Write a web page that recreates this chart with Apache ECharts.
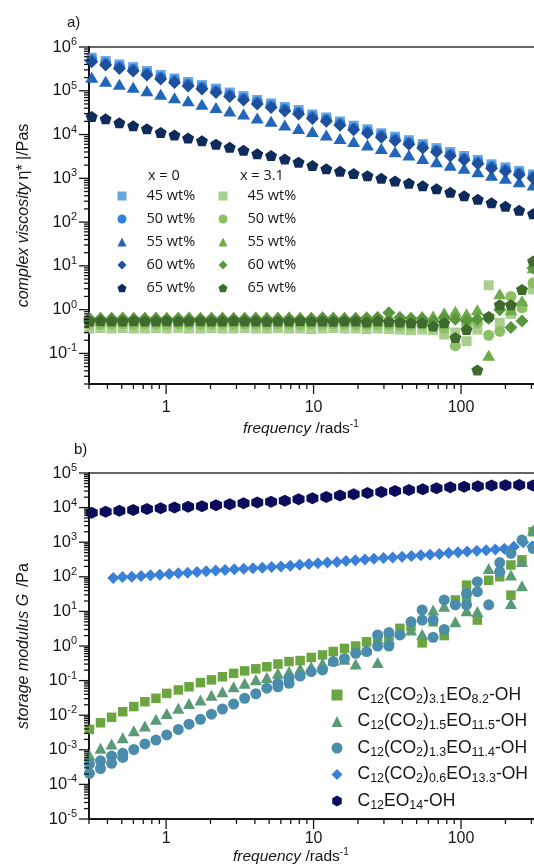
<!DOCTYPE html>
<html><head><meta charset="utf-8">
<script src="https://cdn.jsdelivr.net/npm/echarts@6/dist/echarts.min.js"></script>
<style>html,body{margin:0;padding:0;background:#fff}#c{width:534px;height:868px}</style>
</head><body><div id="c"></div>
<script>
// ---------- data ----------
const freqFine = [0.313,0.389,0.482,0.598,0.741,0.919,1.14,1.41,1.75,2.18,2.70,3.35,4.15,5.15,6.38,7.91,9.82,12.2,15.1,18.7,23.2,28.8,35.7,44.3,55.0,68.2,84.5,105,130,161,200,248,308];
const freqGreen = [0.302,0.359,0.427,0.508,0.604,0.718,0.853,1.01,1.21,1.43,1.71,2.03,2.41,2.87,3.41,4.06,4.82,5.73,6.82,8.11,9.64,11.5,13.6,16.2,19.3,22.9,27.2,32.4,38.5,45.8,54.5,64.7,76.9,91.5,109,129,154,183,218,259,308];
const freqDiam = [0.438,0.506,0.585,0.677,0.783,0.906,1.05,1.21,1.40,1.62,1.87,2.17,2.51,2.90,3.36,3.88,4.49,5.19,6.01,6.95,8.04,9.29,10.7,12.4,14.4,16.6,19.2,22.3,25.7,29.8,34.4,39.8,46.1,53.3,61.6,71.3,82.5,95.4,110,128,148,171,197,228,264,305];

// panel a, x = 0
const a0_45 = [568000,478000,399000,347000,282000,229000,191000,159000,135000,112000,91100,75900,61600,51300,42700,36300,28800,24600,19900,15900,13200,10700,8910,7420,6030,4900,3990,3230,2630,2090,1780,1480,1230];
const a0_50 = [508000,428000,356000,310000,252000,205000,171000,142000,121000,100000,81500,67900,55100,45900,38200,32500,25700,22000,17800,14200,11800,9580,7960,6630,5390,4380,3560,2890,2350,1870,1600,1320,1100];
const a0_55 = [204000,166000,141000,120000,100000,83200,69200,58900,49000,41700,34700,29500,24000,20000,16600,13800,11700,9770,8130,6920,5750,4790,4070,3390,2820,2400,2000,1700,1410,1170,1000,832,708];
const a0_60 = [462000,389000,324000,282000,229000,186000,155000,129000,110000,91200,74100,61700,50100,41700,34700,29500,23400,20000,16200,12900,10700,8710,7240,6030,4900,3980,3240,2630,2140,1700,1450,1200,1000];
const a0_65 = [25700,22900,18600,15800,13500,11200,9770,8320,7240,6030,5130,4370,3630,3310,2750,2340,1950,1660,1450,1290,1150,1000,871,776,676,575,479,398,331,275,229,186,155];
// panel a, x = 3.1
const a3_45 = [0.37,0.38,0.37,0.38,0.37,0.37,0.38,0.37,0.38,0.37,0.37,0.38,0.37,0.37,0.38,0.37,0.37,0.38,0.37,0.37,0.36,0.37,0.38,0.37,0.37,0.36,0.37,0.36,0.35,0.34,0.35,0.34,0.27,0.30,0.19,0.35,3.6,0.5,0.8,1.2,2.9];
const a3_50 = [0.47,0.46,0.47,0.47,0.46,0.47,0.47,0.46,0.47,0.47,0.46,0.47,0.47,0.46,0.47,0.47,0.46,0.47,0.47,0.46,0.47,0.46,0.47,0.47,0.46,0.45,0.46,0.45,0.44,0.43,0.45,0.42,0.38,0.15,0.45,0.5,0.26,0.32,2.0,1.1,4.1];
const a3_55 = [0.68,0.69,0.68,0.69,0.68,0.68,0.69,0.68,0.68,0.69,0.68,0.68,0.69,0.68,0.68,0.69,0.68,0.68,0.69,0.68,0.68,0.70,0.69,0.68,0.68,0.69,0.70,0.72,0.70,0.68,0.71,0.72,0.85,0.92,0.8,1.0,0.091,2.3,1.0,1.6,9.0];
const a3_60 = [0.63,0.62,0.63,0.63,0.62,0.63,0.63,0.62,0.63,0.63,0.62,0.63,0.63,0.62,0.63,0.63,0.62,0.63,0.63,0.62,0.63,0.64,0.63,0.62,0.63,0.64,0.66,0.85,0.66,0.63,0.63,0.55,0.65,0.6,0.55,0.6,0.63,1.0,0.39,0.55,8.9];
const a3_65 = [0.55,0.56,0.55,0.55,0.56,0.55,0.55,0.56,0.55,0.55,0.56,0.55,0.55,0.56,0.55,0.55,0.54,0.55,0.55,0.56,0.55,0.55,0.54,0.55,0.55,0.52,0.55,0.53,0.52,0.50,0.5,0.42,0.5,0.23,0.35,0.042,0.7,1.3,1.3,2.9,12.9];

// panel b
const bSq = [0.00389,0.00603,0.00871,0.0126,0.0178,0.0245,0.0309,0.0427,0.0537,0.0661,0.0871,0.105,0.129,0.162,0.191,0.219,0.251,0.302,0.355,0.380,0.468,0.550,0.692,0.851,1.0,1.32,1.58,1.86,3.24,3.63,1.23,5.01,2.0,21.4,57.5,5.62,79.4,100,219,309,2000];
const bSqRun2 = [null,null,null,null,null,null,null,null,null,null,null,null,null,null,null,null,null,null,null,null,null,null,null,null,null,null,null,null,null,null,null,null,null,null,24.0,null,null,null,29.5,null,null];
const bTri = [0.000708,0.0011,0.00148,0.00224,0.00355,0.0049,0.00759,0.0112,0.0158,0.0219,0.0275,0.038,0.0479,0.0661,0.0832,0.105,0.123,0.162,0.182,0.224,0.251,0.316,0.380,0.417,0.302,0.8,0.331,1.66,2.57,2.88,2.19,11.0,14.1,5.01,10.5,10.0,174,195,112,275,2240];
const bTriRun2 = [null,null,null,null,null,null,null,null,null,null,null,null,null,null,null,null,null,null,null,null,null,null,null,null,null,null,null,null,null,null,null,null,null,null,null,null,null,null,17.0,55.0,null];
const bCirc = [0.000389,0.000479,0.000661,0.000794,0.00102,0.00148,0.00191,0.00269,0.00389,0.0055,0.00759,0.0107,0.0151,0.0209,0.0309,0.0417,0.0603,0.0832,0.115,0.135,0.182,0.204,0.355,0.437,0.617,0.692,2.09,2.45,2.09,5.01,11.0,5.62,21.4,15.5,33.1,72.4,15.5,257,479,1150,661];
const bCircRun2 = [0.000209,0.000288,0.000407,0.000603,null,null,null,null,null,null,null,null,null,null,null,null,null,0.0661,0.0832,null,null,null,null,null,null,null,1.0,1.0,null,null,5.62,1.78,3.02,null,15.5,37.2,null,141,null,null,null];
const bDiam = [93,98,100,105,110,115,120,126,132,138,145,151,158,164,170,178,184,193,200,209,224,234,245,257,269,288,302,316,331,347,363,380,398,417,437,457,490,513,537,562,589,617,646,741,1000,759];
const bHex = [7130,7620,8130,8510,9120,9550,10100,10600,11000,11600,12400,13300,14100,14800,15800,17400,18600,20400,22400,24500,26300,28200,30200,32400,33900,36300,38500,39800,41700,43200,44200,44700,43700];

const namesA = ['45 wt%','50 wt%','55 wt%','60 wt%','65 wt%'];
const namesB = ['C12(CO2)3.1EO8.2-OH','C12(CO2)1.5EO11.5-OH','C12(CO2)1.3EO11.4-OH','C12(CO2)0.6EO13.3-OH','C12EO14-OH'];
const xMajor = [1,10,100];
const yMajorA = [0.1,1,10,100,1000,10000,100000,1000000];
const yMajorB = [1e-5,1e-4,1e-3,1e-2,0.1,1,10,100,1000,10000,100000];
const minorMult = [2,3,4,5,6,7,8,9];

// ---------- helpers ----------
const FONT = 'Liberation Sans';
const INK = '#161616';
const PENT = 'path://M50,0 L97.6,34.5 L79.4,90.5 L20.6,90.5 L2.4,34.5 Z';
const HEX = 'path://M50,0 L93.3,25 L93.3,75 L50,100 L6.7,75 L6.7,25 Z';

function minorVals(d0, d1, lo, hi) {
  const out = [];
  for (let d = d0; d <= d1; d++) for (const m of minorMult) {
    const v = m * Math.pow(10, d);
    if (v >= lo * 0.9999 && v <= hi * 1.0001) out.push(v);
  }
  return out;
}
function pairs(xs, ys) {
  const out = [];
  xs.forEach((x, i) => { if (ys[i] != null) out.push([x, ys[i]]); });
  return out;
}
function sc(name, gi, xs, ys, symbol, size, color, extra) {
  let data = pairs(xs, ys);
  if (extra) data = data.concat(pairs(xs, extra));
  return { type: 'scatter', name, xAxisIndex: gi, yAxisIndex: gi, data, symbol, symbolSize: size,
    itemStyle: { color, opacity: 1 }, emphasis: { disabled: true }, silent: true };
}
function xTicks(gi, vals, yBase, len) {
  return { type: 'custom', xAxisIndex: gi, yAxisIndex: gi, silent: true, clip: false, z: 6,
    data: vals.map(v => [v, yBase]),
    renderItem: (p, api) => {
      const c = api.coord([api.value(0), api.value(1)]);
      return { type: 'line', shape: { x1: c[0], y1: c[1], x2: c[0], y2: c[1] + len }, style: { stroke: INK, lineWidth: 1.3 } };
    } };
}
function yTicks(gi, vals, xBase, len) {
  return { type: 'custom', xAxisIndex: gi, yAxisIndex: gi, silent: true, clip: false, z: 6,
    data: vals.map(v => [xBase, v]),
    renderItem: (p, api) => {
      const c = api.coord([api.value(0), api.value(1)]);
      return { type: 'line', shape: { x1: c[0] - len, y1: c[1], x2: c[0], y2: c[1] }, style: { stroke: INK, lineWidth: 1.3 } };
    } };
}
function powLabel(v) {
  const e = Math.log10(v), r = Math.round(e);
  if (Math.abs(e - r) > 0.01) return '';
  return '{b|10}{s|' + r + '}';
}
function decLabel(v) {
  const e = Math.log10(v), r = Math.round(e);
  if (Math.abs(e - r) > 0.01 || r < 0) return '';
  return String(Math.round(Math.pow(10, r)));
}
function richChem(n) {
  return n.replace(/(\d+(?:\.\d+)?)|([^\d]+)/g, (m, d, t) => d ? '{s|' + d + '}' : '{n|' + t + '}');
}
const tickRich = {
  b: { fontSize: 16.5, lineHeight: 21, fontFamily: FONT, color: INK },
  s: { fontSize: 11, lineHeight: 12, verticalAlign: 'top', fontFamily: FONT, color: INK }
};
function xAxisCfg(gi, margin) {
  return { type: 'log', logBase: 10, gridIndex: gi, min: 0.3, max: 1000, splitNumber: 5,
    axisLine: { show: true, onZero: false, lineStyle: { color: INK, width: 2 } },
    axisTick: { show: false }, minorTick: { show: false }, splitLine: { show: false },
    axisLabel: { formatter: decLabel, margin, fontSize: 16, fontFamily: FONT, color: INK } };
}
function yAxisCfg(gi, min, max, split, name) {
  return { type: 'log', logBase: 10, gridIndex: gi, min, max, splitNumber: split,
    axisLine: { show: true, lineStyle: { color: INK, width: 2 } },
    axisTick: { show: false }, minorTick: { show: false }, splitLine: { show: false },
    axisLabel: { formatter: powLabel, margin: 12, rich: tickRich },
    name, nameLocation: 'middle', nameRotate: 90, nameGap: 57, nameMoveOverlap: false,
    nameTextStyle: { color: INK, rich: {
      i: { fontStyle: 'italic', fontSize: 16, fontFamily: FONT, color: INK },
      n: { fontSize: 16, fontFamily: FONT, color: INK } } } };
}
const xTitleRich = {
  i: { fontStyle: 'italic', fontSize: 15.5, lineHeight: 20, fontFamily: FONT, color: INK },
  n: { fontSize: 15.5, lineHeight: 20, fontFamily: FONT, color: INK },
  s: { fontSize: 10, lineHeight: 14, verticalAlign: 'top', fontFamily: FONT, color: INK }
};
function title(text, left, top, size, family, rich) {
  return { text, left, top, padding: 0,
    textStyle: { fontSize: size, fontWeight: 'normal', fontFamily: family || FONT, color: INK, rich } };
}

const blue = ['#6aa6e2', '#2f7fdc', '#2166b8', '#1d4f9c', '#0f2b5b'];
const green = ['#a8d08d', '#8cc063', '#6eab4a', '#5a963d', '#3e6b2d'];
const symA = ['rect', 'circle', 'triangle', 'diamond', PENT];
const sizeA = [[10, 10], 11, [13, 11], [13, 13], [12, 11]];
const aX0 = [a0_45, a0_50, a0_55, a0_60, a0_65];
const aX3 = [a3_45, a3_50, a3_55, a3_60, a3_65];

const series = [];
namesA.forEach((n, i) => series.push(sc('0|' + n, 0, freqFine, aX0[i], symA[i], sizeA[i], blue[i])));
namesA.forEach((n, i) => series.push(sc('3.1|' + n, 0, freqGreen, aX3[i], symA[i], sizeA[i], green[i])));
series.push(sc(namesB[4], 1, freqFine, bHex, HEX, [12, 12], '#0b0d5c'));
series.push(sc(namesB[3], 1, freqDiam, bDiam, 'diamond', [12, 12], '#3b80d8'));
series.push(sc(namesB[0], 1, freqGreen, bSq, 'rect', [9.5, 9.5], '#6aa53f', bSqRun2));
series.push(sc(namesB[1], 1, freqGreen, bTri, 'triangle', [12, 11], '#5a9b76', bTriRun2));
series.push(sc(namesB[2], 1, freqGreen, bCirc, 'circle', 11, '#4a8cab', bCircRun2));

// axis ticks (drawn through the axes' own scales)
series.push(xTicks(0, xMajor, 0.02, 10), xTicks(0, minorVals(-1, 2, 0.3, 1000), 0.02, 5));
series.push(yTicks(0, yMajorA, 0.3, 10), yTicks(0, minorVals(-2, 5, 0.02, 1e6), 0.3, 5));
series.push(xTicks(1, xMajor, 1e-5, 10), xTicks(1, minorVals(-1, 2, 0.3, 1000), 1e-5, 5));
series.push(yTicks(1, yMajorB, 0.3, 10), yTicks(1, minorVals(-5, 4, 1e-5, 1e5), 0.3, 5));

const option = {
  animation: false,
  backgroundColor: '#fff',
  textStyle: { fontFamily: FONT },
  title: [
    title('a)', 67, 15, 15),
    title('b)', 74, 442, 15),
    title('x = 0', 148, 168, 14.5, 'Open Sans'),
    title('x = 3.1', 240, 168, 14.5, 'Open Sans'),
    title('{i|frequency} {n|/rads}{s|-1}', 243, 419, 15.5, FONT, xTitleRich),
    title('{i|frequency} {n|/rads}{s|-1}', 233, 847, 15.5, FONT, xTitleRich)
  ],
  legend: [
    { orient: 'vertical', left: 117.5, top: 186, padding: 0, itemWidth: 9, itemHeight: 9, itemGap: 3,
      selectedMode: false, data: namesA.map(n => '0|' + n), formatter: n => n.split('|')[1],
      textStyle: { fontFamily: 'Open Sans', fontSize: 14.5, lineHeight: 20, color: INK, padding: [0, 0, 0, 15] } },
    { orient: 'vertical', left: 218.5, top: 186, padding: 0, itemWidth: 9, itemHeight: 9, itemGap: 3,
      selectedMode: false, data: namesA.map(n => '3.1|' + n), formatter: n => n.split('|')[1],
      textStyle: { fontFamily: 'Open Sans', fontSize: 14.5, lineHeight: 20, color: INK, padding: [0, 0, 0, 15] } },
    { orient: 'vertical', left: 331.5, top: 686, padding: 0, itemWidth: 11, itemHeight: 11, itemGap: 6.5,
      selectedMode: false, data: namesB, formatter: richChem,
      textStyle: { color: INK, padding: [0, 0, 0, 10], rich: {
        n: { fontSize: 17.5, lineHeight: 22, fontFamily: FONT, color: INK },
        s: { fontSize: 12.5, lineHeight: 10, verticalAlign: 'bottom', fontFamily: FONT, color: INK } } } }
  ],
  grid: [
    { left: 89, top: 47, right: -74.5, height: 337, show: true, borderColor: '#333', borderWidth: 1.5,
      backgroundColor: 'transparent', containLabel: false, outerBoundsMode: 'none' },
    { left: 89, top: 473, right: -74.5, height: 346, show: true, borderColor: '#333', borderWidth: 1.5,
      backgroundColor: 'transparent', containLabel: false, outerBoundsMode: 'none' }
  ],
  xAxis: [xAxisCfg(0, 16), xAxisCfg(1, 12)],
  yAxis: [
    yAxisCfg(0, 0.02, 1e6, 5, '{i|complex viscosity} {n|η* |/Pas}'),
    yAxisCfg(1, 1e-5, 99999, 10, '{i|storage modulus G}  {n|/Pa}')
  ],
  series
};
const chart = echarts.init(document.getElementById('c'), null, { renderer: 'canvas' });
chart.setOption(option);
</script>
</body></html>
